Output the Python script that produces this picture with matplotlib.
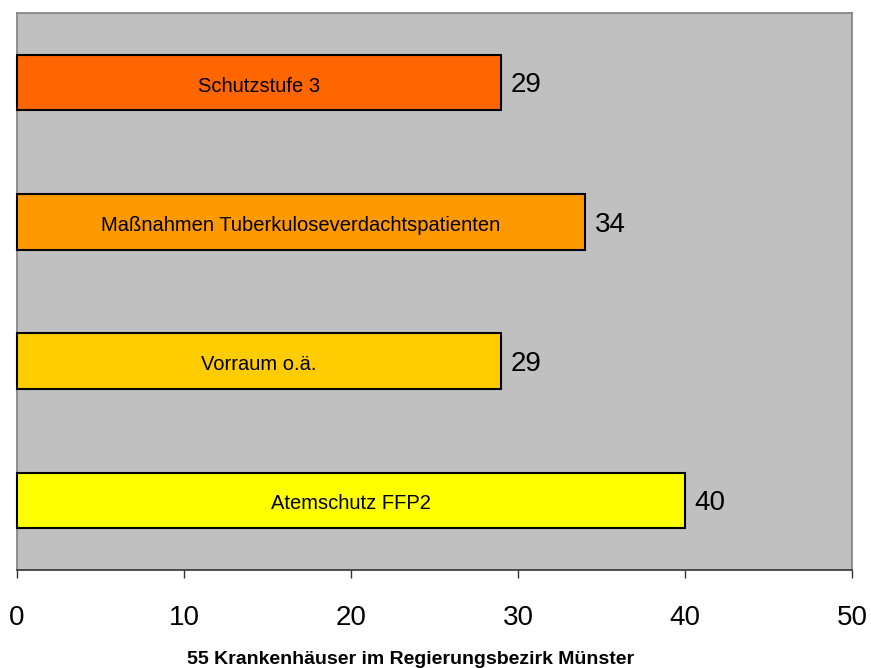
import matplotlib
matplotlib.use("Agg")
import matplotlib.pyplot as plt

plt.rcParams['font.family'] = ['Liberation Sans', 'DejaVu Sans']

# categories from bottom to top
massnahmen = ['Atemschutz FFP2', 'Vorraum o.ä.',
              'Maßnahmen Tuberkuloseverdachtspatienten', 'Schutzstufe 3']
anzahl = [40, 29, 34, 29]
farben = ['#FFFF00', '#FFCC00', '#FF9900', '#FF6600']
ticks = [0, 10, 20, 30, 40, 50]

fig = plt.figure(figsize=(8.71, 6.68), dpi=100)
ax = fig.add_axes([17/871, 98/668, 835/871, 557/668])
ax.set_facecolor('#C0C0C0')

pos = list(range(len(massnahmen)))
bars = ax.barh(pos, anzahl, height=0.4, color=farben,
               edgecolor='black', linewidth=1.5, clip_on=False, zorder=3)

for b, name, n in zip(bars, massnahmen, anzahl):
    y = b.get_y() + b.get_height() / 2
    ax.annotate(name, (n / 2, y), xytext=(0, -2.5), textcoords='offset points',
                ha='center', va='center', fontsize=14.5, zorder=4)
    ax.annotate(str(n), (n, y), xytext=(7, -2), textcoords='offset points',
                ha='left', va='center', fontsize=20)

ax.set_xlim(0, 50)
ax.set_ylim(-0.5, 3.5)
ax.set_xticks(ticks)
ax.set_xticklabels([str(t) for t in ticks], fontsize=20)
ax.set_yticks([])
ax.tick_params(axis='x', direction='out', length=6, width=1, color='#333333', pad=19)

for s in ['left', 'top', 'right']:
    ax.spines[s].set_color('#808080')
    ax.spines[s].set_linewidth(1.2)
ax.spines['bottom'].set_color('#333333')
ax.spines['bottom'].set_linewidth(1.2)

fig.text(411/871, 1 - 659/668, '55 Krankenhäuser im Regierungsbezirk Münster',
         ha='center', va='center', fontsize=14, fontweight='bold')

fig.savefig('out.png', dpi=100)
